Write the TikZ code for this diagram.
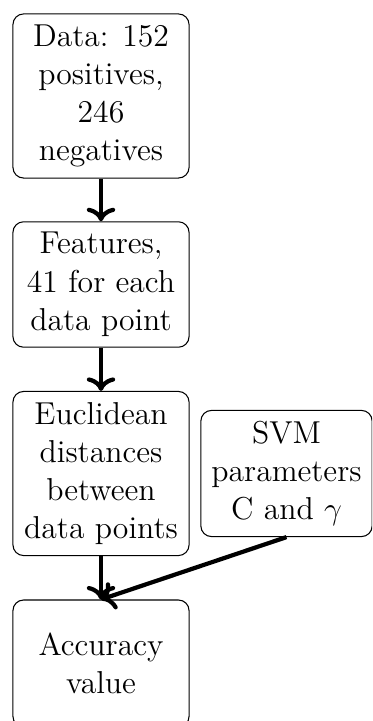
\documentclass[12pt,tikz,border=0pt]{standalone}
\usetikzlibrary{arrows.meta}
\begin{document}
\begin{tikzpicture}[x=0.3788pt, y=-0.3788pt,
  stagebox/.style={draw, rounded corners=4pt, align=center, line width=0.4pt,
    minimum width=66.7pt},
  flow/.style={->, ultra thick}]
  % page frame and clipping
  \useasboundingbox (0,0) rectangle (372,721);
  \clip (0,0) rectangle (372,721);
  \node[stagebox, minimum height=62.1pt] (data) at (101,96)
    {Data: 152\\positives,\\246\\negatives};
  \node[stagebox, minimum height=47.3pt] (feat) at (101,284.5)
    {Features,\\41 for each\\data point};
  \node[stagebox, minimum height=61.7pt] (dist) at (101,473.5)
    {Euclidean\\distances\\between\\data points};
  \node[stagebox, minimum width=64.8pt, minimum height=47.3pt] (svm) at (286.5,473.5)
    {SVM\\parameters\\C and $\gamma$};
  \node[stagebox, minimum height=48.1pt] (acc) at (101,663.5)
    {Accuracy\\value};
  % connectors
  \draw[flow] (data) -- (feat);
  \draw[flow] (feat) -- (dist);
  \draw[flow] (dist) -- (acc);
  \draw[flow] (svm.south) -- (acc.north);
\end{tikzpicture}
\end{document}
